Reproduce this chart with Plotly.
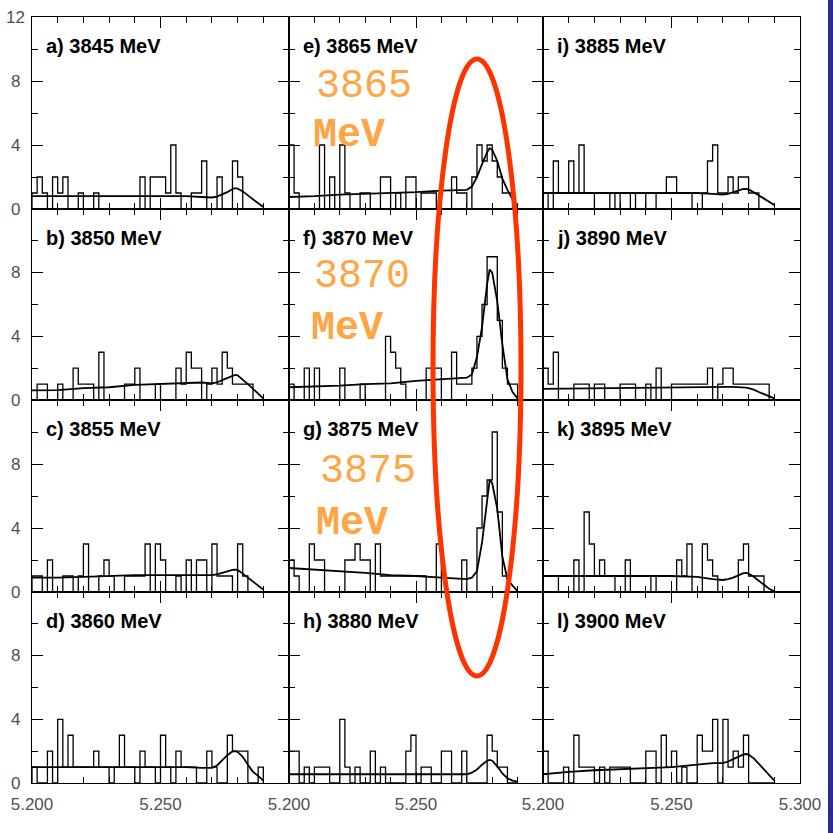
import plotly.graph_objects as go

# ---------------- data ----------------
bin_edges = [5.200, 5.202, 5.204, 5.206, 5.208, 5.210, 5.212, 5.214, 5.216, 5.218,
             5.220, 5.222, 5.224, 5.226, 5.228, 5.230, 5.232, 5.234, 5.236, 5.238,
             5.240, 5.242, 5.244, 5.246, 5.248, 5.250, 5.252, 5.254, 5.256, 5.258,
             5.260, 5.262, 5.264, 5.266, 5.268, 5.270, 5.272, 5.274, 5.276, 5.278,
             5.280, 5.282, 5.284, 5.286, 5.288, 5.290]

panel_labels = ["a) 3845 MeV", "b) 3850 MeV", "c) 3855 MeV", "d) 3860 MeV",
                "e) 3865 MeV", "f) 3870 MeV", "g) 3875 MeV", "h) 3880 MeV",
                "i) 3885 MeV", "j) 3890 MeV", "k) 3895 MeV", "l) 3900 MeV"]

counts_a = [1,2,1,0,2,1,2,0,0,1,0,0,1,0,0,0,0,0,0,0,0,2,0,2,2,2,1,4,1,0,0,1,1,3,0,0,2,0,0,3,2,0,0,0,0]
counts_b = [0,1,1,0,0,1,0,0,2,1,1,1,0,3,0,0,0,0,1,1,2,0,0,0,1,0,0,0,2,1,3,2,2,0,1,2,1,3,2,1,1,1,1,0,0]
counts_c = [1,1,0,2,0,0,1,1,0,1,3,0,0,1,2,1,0,0,1,1,1,1,3,0,3,2,0,0,1,0,2,0,2,2,0,3,1,1,1,0,3,1,0,0,0]
counts_d = [1,0,0,2,0,4,1,3,1,1,1,1,2,1,1,0,1,3,1,1,0,2,1,1,0,3,1,0,2,1,1,1,0,0,2,1,0,0,3,2,2,2,0,0,1]
counts_e = [4,1,0,0,0,0,4,0,2,0,4,1,0,0,1,1,0,0,2,2,0,1,0,2,2,0,1,1,1,0,0,0,2,1,1,0,2,4,3,4,3,2,1,1,0]
counts_f = [1,0,0,2,0,2,0,0,0,0,2,0,0,0,1,0,0,0,0,4,3,2,1,0,0,0,0,2,2,2,0,0,3,1,1,1,2,4,6,9,9,5,2,1,1]
counts_g = [2,1,0,0,3,2,2,0,0,0,0,2,2,3,2,2,0,3,1,1,1,1,1,1,1,1,1,0,0,3,0,0,0,0,2,0,0,4,6,7,10,5,1,0,0]
counts_h = [2,2,0,1,0,1,1,1,0,0,4,1,0,1,0,0,2,0,1,0,0,0,0,2,3,0,1,1,0,0,2,2,0,0,2,0,0,0,0,3,2,1,1,0,0]
counts_i = [1,0,3,1,1,3,1,4,1,1,0,0,0,1,0,1,1,0,1,1,0,0,1,1,2,2,1,1,1,0,0,1,3,4,1,1,2,1,2,2,1,1,0,0,0]
counts_j = [2,1,3,0,0,0,1,1,1,0,1,1,0,0,0,1,1,1,0,0,1,0,2,0,0,1,1,1,1,1,1,1,2,0,1,2,2,1,1,1,1,1,1,1,0]
counts_k = [1,1,1,0,0,0,2,0,5,3,1,2,1,1,0,0,2,0,0,0,0,1,0,0,0,0,2,1,3,0,0,3,2,1,0,0,0,0,2,3,1,1,1,0,0]
counts_l = [2,0,0,0,1,0,3,1,1,1,0,1,0,1,1,1,1,0,0,0,2,2,0,3,1,2,0,1,0,0,3,2,2,4,0,4,1,2,1,3,0,0,0,0,0]

fit_x = [5.200, 5.210, 5.220, 5.230, 5.240, 5.250, 5.260, 5.266, 5.270, 5.272,
         5.274, 5.276, 5.278, 5.279, 5.280, 5.282, 5.284, 5.286, 5.288, 5.290]

fit_a = [0.80, 0.80, 0.80, 0.80, 0.80, 0.80, 0.80, 0.75, 0.72, 0.78, 0.90, 1.05, 1.25, 1.30, 1.28, 1.10, 0.85, 0.60, 0.35, 0.12]
fit_b = [0.60, 0.62, 0.75, 0.80, 0.95, 1.00, 1.05, 1.10, 1.05, 1.10, 1.25, 1.40, 1.55, 1.58, 1.55, 1.30, 1.00, 0.70, 0.40, 0.10]
fit_c = [0.90, 0.90, 0.95, 1.00, 1.05, 1.05, 1.05, 1.05, 1.05, 1.10, 1.20, 1.30, 1.38, 1.40, 1.38, 1.15, 0.90, 0.60, 0.40, 0.15]
fit_d = [1.00, 1.00, 1.00, 1.00, 1.00, 1.00, 1.00, 0.95, 0.95, 1.10, 1.40, 1.75, 1.98, 2.00, 1.95, 1.65, 1.15, 0.70, 0.45, 0.15]
fit_e = [0.75, 0.80, 0.90, 0.95, 1.00, 1.05, 1.15, 1.20, 1.20, 1.40, 2.00, 2.80, 3.55, 3.80, 3.70, 3.00, 1.90, 1.20, 0.60, 0.15]
fit_f = [0.80, 0.85, 0.90, 1.00, 1.05, 1.20, 1.30, 1.35, 1.40, 1.60, 2.70, 4.60, 7.30, 8.20, 8.00, 6.20, 3.50, 1.30, 0.50, 0.10]
fit_g = [1.50, 1.40, 1.30, 1.20, 1.05, 1.00, 0.90, 0.85, 0.80, 0.90, 1.30, 3.10, 5.80, 7.00, 6.80, 5.20, 2.20, 0.80, 0.40, 0.05]
fit_h = [0.55, 0.55, 0.55, 0.55, 0.55, 0.55, 0.55, 0.55, 0.55, 0.65, 0.85, 1.15, 1.40, 1.45, 1.40, 1.05, 0.60, 0.30, 0.15, 0.08]
fit_i = [1.00, 1.00, 1.00, 1.00, 1.00, 1.00, 1.00, 0.95, 0.90, 0.95, 1.05, 1.15, 1.25, 1.25, 1.22, 1.05, 0.85, 0.65, 0.45, 0.25]
fit_j = [0.70, 0.72, 0.75, 0.78, 0.80, 0.82, 0.82, 0.82, 0.82, 0.82, 0.82, 0.82, 0.80, 0.78, 0.75, 0.65, 0.50, 0.35, 0.22, 0.10]
fit_k = [1.00, 1.00, 1.00, 1.00, 1.00, 1.00, 0.95, 0.80, 0.75, 0.80, 0.90, 1.05, 1.18, 1.20, 1.15, 0.95, 0.70, 0.40, 0.20, 0.05]
fit_l = [0.55, 0.70, 0.80, 0.87, 0.95, 1.00, 1.15, 1.25, 1.25, 1.35, 1.50, 1.65, 1.80, 1.82, 1.78, 1.55, 1.20, 0.85, 0.50, 0.15]

all_counts = [counts_a, counts_b, counts_c, counts_d, counts_e, counts_f,
              counts_g, counts_h, counts_i, counts_j, counts_k, counts_l]
all_fits = [fit_a, fit_b, fit_c, fit_d, fit_e, fit_f, fit_g, fit_h, fit_i, fit_j, fit_k, fit_l]

y_tick_values = [0, 4, 8, 12]
x_tick_values = [5.200, 5.250, 5.300]
x_minor_values = [5.21, 5.22, 5.23, 5.24, 5.26, 5.27, 5.28, 5.29]
y_minor_values = [2, 6, 10]

highlight_texts = [("3865", "MeV"), ("3870", "MeV"), ("3875", "MeV")]

# ---------------- layout geometry (pixels) ----------------
W = H = 833
col_px = [(32, 289), (289, 543), (543, 800)]
row_px = [(17, 209), (209, 400), (400, 592), (592, 783)]

def px_x(p):
    return p / W

def px_y(p):
    return 1 - p / H

fig = go.Figure()
layout = dict(width=W, height=H, margin=dict(l=0, r=0, t=0, b=0, pad=0, autoexpand=False),
              paper_bgcolor="white", plot_bgcolor="rgba(0,0,0,0)",
              showlegend=False)
annotations = []
shapes = []

label_font = dict(family="Liberation Sans, Arial", size=20, color="black")
tick_font = dict(family="Liberation Sans, Arial", size=17, color="#505050")

for i in range(12):
    c = i // 4
    r = i % 4
    n = i + 1
    xa = "xaxis" if n == 1 else f"xaxis{n}"
    ya = "yaxis" if n == 1 else f"yaxis{n}"
    xr = "x" if n == 1 else f"x{n}"
    yr = "y" if n == 1 else f"y{n}"

    counts = all_counts[i]
    hx = [bin_edges[0]] + list(bin_edges)
    hy = [0] + list(counts) + [0]
    fig.add_trace(go.Scatter(x=hx, y=hy, mode="lines", line=dict(color="black", width=1.3, shape="hv"),
                             xaxis=xr, yaxis=yr, hoverinfo="skip"))
    fig.add_trace(go.Scatter(x=fit_x, y=all_fits[i], mode="lines", line=dict(color="black", width=1.8),
                             xaxis=xr, yaxis=yr, hoverinfo="skip"))

    if c == 2:
        ttext = ["5.200", "5.250", "5.300"]
    else:
        ttext = ["5.200", "5.250", ""]
    layout[xa] = dict(domain=[px_x(col_px[c][0]), px_x(col_px[c][1])], anchor=yr,
                      range=[5.2, 5.3], showgrid=False, zeroline=False, automargin=False,
                      showline=True, linecolor="black", linewidth=1, mirror="ticks",
                      ticks="inside", ticklen=11, tickwidth=1.3, tickcolor="black",
                      tickmode="array", tickvals=x_tick_values, ticktext=ttext,
                      showticklabels=(r == 3), tickfont=tick_font, ticklabelstandoff=6,
                      minor=dict(tickmode="array", tickvals=x_minor_values, ticks="inside",
                                 ticklen=6, tickwidth=1.3, tickcolor="black", showgrid=False))
    layout[ya] = dict(domain=[px_y(row_px[r][1]), px_y(row_px[r][0])], anchor=xr,
                      range=[0, 12], showgrid=False, zeroline=False, automargin=False,
                      showline=True, linecolor="black", linewidth=1, mirror="ticks",
                      ticks="inside", ticklen=11, tickwidth=1.3, tickcolor="black",
                      tickmode="array", tickvals=y_tick_values, showticklabels=False,
                      minor=dict(tickmode="array", tickvals=y_minor_values, ticks="inside",
                                 ticklen=6, tickwidth=1.3, tickcolor="black", showgrid=False))

    annotations.append(dict(text="<b>" + panel_labels[i] + "</b>", xref="paper", yref="paper",
                            x=px_x(col_px[c][0] + 12), y=px_y(row_px[r][0] + 29),
                            xanchor="left", yanchor="middle", showarrow=False, font=label_font))

    if c == 0:
        vals = y_tick_values if r == 0 else y_tick_values[:-1]
        for v in vals:
            annotations.append(dict(text=str(v), xref="paper", yref=yr, x=px_x(16), y=v,
                                    xanchor="center", yanchor="middle", showarrow=False,
                                    font=tick_font))

orange = "#FFA545"
hl_pos = [((316, 86), (313, 136)), ((314, 276), (311, 328)), ((320, 471), (316, 523))]
for (num, unit), ((nx, ny), (ux, uy)) in zip(highlight_texts, hl_pos):
    annotations.append(dict(text=num, xref="paper", yref="paper", x=px_x(nx - 2), y=px_y(ny),
                            xanchor="left", yanchor="middle", showarrow=False,
                            font=dict(family="Liberation Mono, Courier New", size=40, color=orange)))
    annotations.append(dict(text="<b>" + unit + "</b>", xref="paper", yref="paper", x=px_x(ux - 2), y=px_y(uy),
                            xanchor="left", yanchor="middle", showarrow=False,
                            font=dict(family="Liberation Mono, Courier New", size=40, color=orange)))

shapes.append(dict(type="circle", xref="paper", yref="paper",
                   x0=px_x(433), x1=px_x(521), y0=px_y(676), y1=px_y(59),
                   line=dict(color="#FF3300", width=5), layer="above"))
shapes.append(dict(type="rect", xref="paper", yref="paper", x0=px_x(828), x1=1, y0=0, y1=1,
                   fillcolor="#2B2B8F", line=dict(width=0), layer="below"))

layout["annotations"] = annotations
layout["shapes"] = shapes
fig.update_layout(**layout)
fig.write_html("out.html")
